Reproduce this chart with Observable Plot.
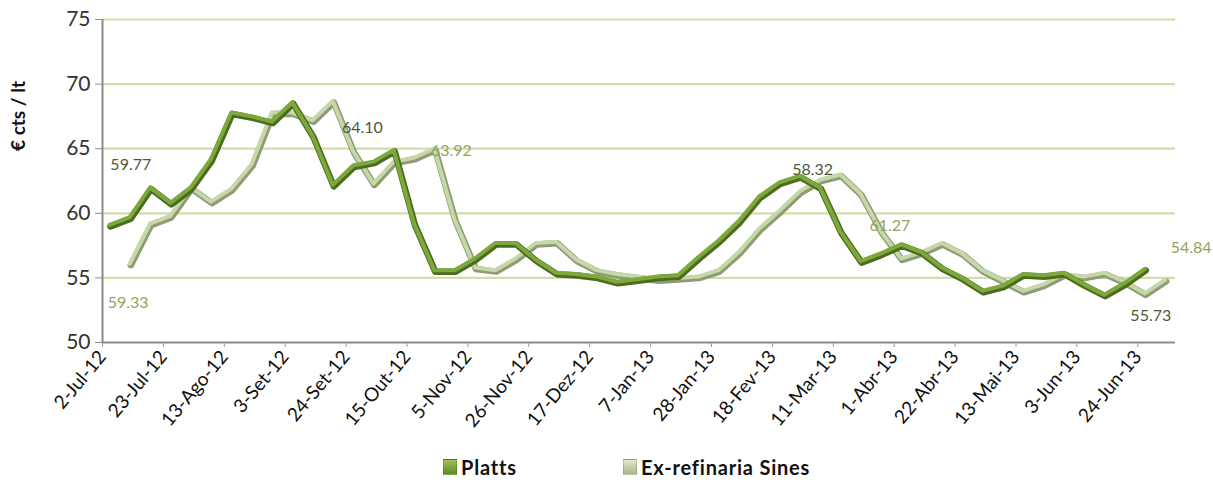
<!DOCTYPE html>
<html>
<head>
<meta charset="utf-8">
<script src="https://cdn.jsdelivr.net/npm/d3@7"></script>
<script src="https://cdn.jsdelivr.net/npm/@observablehq/plot@0.6"></script>
<style>
  body { margin: 0; background: #fff; font-family: Lato, "Open Sans", sans-serif; }
  #wrap { position: relative; width: 1213px; height: 495px; }
  #legend { position: absolute; top: 440px; left: 0; width: 1213px; height: 55px; }
  .item { position: absolute; top: 15px; display: flex; align-items: center; font-weight: bold; font-size: 20px; letter-spacing: 0.8px; color: #111; }
  .sw { width: 12px; height: 14px; margin-right: 4px; border: 1px solid rgba(0,0,0,0.15); }
</style>
</head>
<body>
<div id="wrap"><div id="chart"></div><div id="legend"></div></div>
<script>
// ---- data ----
const plattsStart = Date.UTC(2012, 6, 2);   // first weekly Platts quote
const refStart = Date.UTC(2012, 6, 9);      // first weekly Ex-refinaria quote
const plattsValues = [
  59.1, 59.7, 62.0, 60.8, 62.0, 64.2, 67.8, 67.5, 67.1, 68.6,
  66.0, 62.2, 63.7, 64.0, 64.9, 59.2, 55.6, 55.6, 56.5, 57.7,
  57.7, 56.4, 55.4, 55.3, 55.1, 54.7, 54.9, 55.1, 55.2, 56.6,
  57.9, 59.4, 61.3, 62.4, 62.9, 62.0, 58.6, 56.3, 56.9, 57.6,
  57.0, 55.8, 55.0, 54.0, 54.4, 55.3, 55.2, 55.4, 54.5, 53.7,
  54.6, 55.7
];
const refValues = [
  56.1, 59.2, 59.8, 62.0, 60.9, 61.9, 63.8, 67.8, 67.8, 67.2,
  68.7, 64.8, 62.3, 64.0, 64.3, 65.0, 59.5, 55.8, 55.6, 56.5,
  57.7, 57.8, 56.4, 55.6, 55.3, 55.1, 54.9, 55.0, 55.1, 55.6,
  57.0, 58.8, 60.2, 61.7, 62.6, 63.0, 61.5, 58.6, 56.5, 57.0,
  57.7, 56.9, 55.6, 54.8, 54.0, 54.5, 55.3, 55.1, 55.4, 54.7,
  53.8, 54.85
];
const seriesNames = ["Platts", "Ex-refinaria Sines"];
const tickLabels = [
  "2-Jul-12", "23-Jul-12", "13-Ago-12", "3-Set-12", "24-Set-12", "15-Out-12",
  "5-Nov-12", "26-Nov-12", "17-Dez-12", "7-Jan-13", "28-Jan-13", "18-Fev-13",
  "11-Mar-13", "1-Abr-13", "22-Abr-13", "13-Mai-13", "3-Jun-13", "24-Jun-13"
];
const yTicks = [50, 55, 60, 65, 70, 75];
// annotation texts, each attached to a point of a series (series, point index)
const labelTexts = ["59.77", "59.33", "64.10", "63.92", "58.32", "61.27", "55.73", "54.84"];
const labelSeries = [0, 1, 0, 1, 0, 1, 0, 1];
const labelIndex = [1, 1, 13, 15, 34, 37, 51, 51];

// ---- build tables ----
const week = 7 * 24 * 3600 * 1000;
const platts = plattsValues.map((v, i) => ({date: new Date(plattsStart + i * week), value: v}));
const ref = refValues.map((v, i) => ({date: new Date(refStart + i * week), value: v}));
const tickDates = tickLabels.map((_, i) => new Date(plattsStart + i * 3 * week));
const tickMap = new Map(tickDates.map((d, i) => [+d, tickLabels[i]]));
const seriesData = [platts, ref];
const labels = labelTexts.map((t, k) => ({text: t, ...seriesData[labelSeries[k]][labelIndex[k]], s: labelSeries[k]}));

// styling / placement (not data)
const labelOffsets = [[1, -52], [-22, 79], [-11, -34], [17, 2], [13, -6], [9, -6], [6, 47], [26, -32]];
const labelColors = ["#4d5a38", "#8fa55c"];
const lineDx = 7;

const labelMarks = labels.map((l, k) => Plot.text([l], {
  x: "date", y: "value", text: "text",
  dx: lineDx + labelOffsets[k][0], dy: labelOffsets[k][1],
  fill: labelColors[l.s], fontSize: 16, fontFamily: "Lato"
}));

const chart = Plot.plot({
  width: 1213,
  height: 440,
  marginLeft: 102,
  marginRight: 38,
  marginTop: 19,
  marginBottom: 98,
  style: {fontFamily: "Lato, sans-serif", background: "#fff", color: "#333"},
  x: {type: "utc", domain: [new Date(Date.UTC(2012, 6, 2)), new Date(Date.UTC(2013, 6, 7))]},
  y: {domain: [50, 75]},
  marks: [
    Plot.gridY(yTicks.filter(d => d > 50), {stroke: "#d2dcae", strokeWidth: 2.2, strokeOpacity: 1}),
    Plot.ruleX([new Date(plattsStart)], {stroke: "#8a8a8a", strokeWidth: 2}),
    Plot.ruleY([50], {stroke: "#8a8a8a", strokeWidth: 2}),
    Plot.axisY(yTicks, {anchor: "left", tickSize: 7, tickPadding: 5, fontSize: 21, fill: "#333", stroke: "#8a8a8a", label: null}),
    Plot.axisX(tickDates, {anchor: "bottom", tickSize: 5, tickPadding: 6, tickRotate: -50, fontSize: 19, fill: "#111", stroke: "#9a9a9a",
      tickFormat: d => tickMap.get(+d), label: null}),
    Plot.text(["€ cts / lt"], {frameAnchor: "left", dx: -84, dy: -30, rotate: -90, fontWeight: "bold", fontSize: 19, fill: "#111"}),
    // Ex-refinaria Sines (light ribbon)
    Plot.line(ref, {x: "date", y: "value", stroke: "#8e9b74", strokeWidth: 6.5, dx: lineDx + 1, dy: 1.5, strokeLinejoin: "round"}),
    Plot.line(ref, {x: "date", y: "value", stroke: "#c6d8a8", strokeWidth: 4, dx: lineDx, strokeLinejoin: "round"}),
    // Platts (dark ribbon)
    Plot.line(platts, {x: "date", y: "value", stroke: "#4b6b1f", strokeWidth: 6.5, dx: lineDx + 1, dy: 1.5, strokeLinejoin: "round"}),
    Plot.line(platts, {x: "date", y: "value", stroke: "#7ca83c", strokeWidth: 4, dx: lineDx, strokeLinejoin: "round"}),
    ...labelMarks
  ]
});
document.getElementById("chart").appendChild(chart);

// legend
const legend = document.getElementById("legend");
const legendLeft = [443, 623];
const legendSwatch = [
  "linear-gradient(#9cc45a, #5f8a26)",
  "linear-gradient(#dfe8cc, #a8b88a)"
];
seriesNames.forEach((name, i) => {
  const el = document.createElement("div");
  el.className = "item";
  el.style.left = legendLeft[i] + "px";
  el.innerHTML = `<span class="sw" style="background:${legendSwatch[i]}"></span><span>${name}</span>`;
  legend.appendChild(el);
});
</script>
</body>
</html>
